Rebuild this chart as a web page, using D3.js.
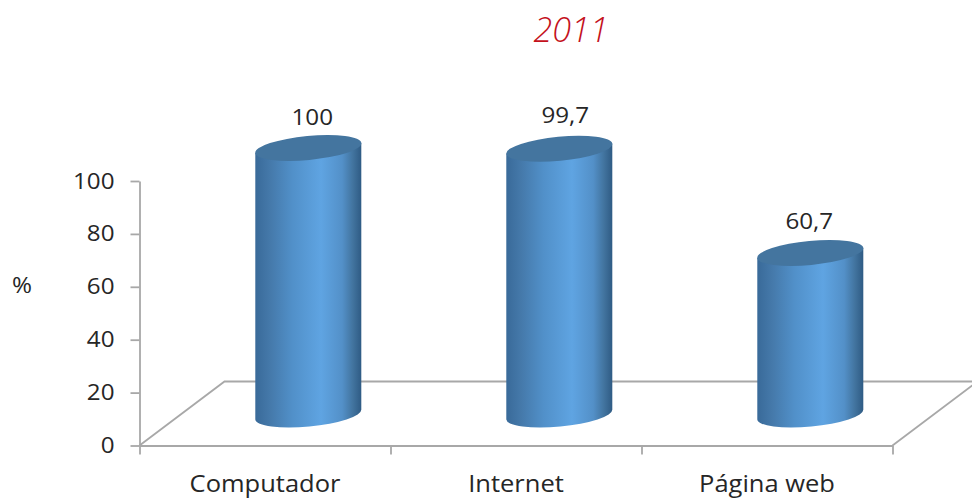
<!DOCTYPE html>
<meta charset="utf-8">
<title>2011</title>
<style>
body {
  margin: 0;
  background: #fff;
  overflow: hidden;
}
svg text {
  font-family: "Open Sans", sans-serif;
  fill: #262626;
}
.axis path, .axis line, .floor {
  fill: none;
  stroke: #a8a8a8;
  stroke-width: 1.8;
}
.title {
  fill: #c4111c;
  font-style: italic;
  font-weight: 300;
}
</style>
<script src="https://d3js.org/d3.v7.min.js"></script>
<body>
<script>
var categories = ["Computador", "Internet", "Página web"];
var values = [100, 99.7, 60.7];
var valueLabels = ["100", "99,7", "60,7"];
var yTicks = [0, 20, 40, 60, 80, 100];

var width = 972, height = 498;
var depthX = 85, depthY = 64;    // how far the floor runs back
var barWidth = 106, tilt = 10;   // tilt = left side of a cap sits this much lower than the right

var svg = d3.select("body").append("svg")
    .attr("width", width)
    .attr("height", height);

var defs = svg.append("defs");
var grad = defs.append("linearGradient").attr("id", "barFill");
grad.append("stop").attr("offset", "0%").attr("stop-color", "#396a99");
grad.append("stop").attr("offset", "14%").attr("stop-color", "#4579aa");
grad.append("stop").attr("offset", "35%").attr("stop-color", "#5190c9");
grad.append("stop").attr("offset", "62%").attr("stop-color", "#5fa4e2");
grad.append("stop").attr("offset", "82%").attr("stop-color", "#5390c8");
grad.append("stop").attr("offset", "92%").attr("stop-color", "#42749f");
grad.append("stop").attr("offset", "100%").attr("stop-color", "#2f5b84");

var y = d3.scaleLinear().domain([0, 100]).range([445.5, 181]);
// cylinders stand further back, so they get their own slightly stretched scale
var barY = d3.scaleLinear().domain([0, 100]).range([415, 148]);
var x = d3.scaleBand().domain(categories).range([139.5, 892.5]);
var xEdges = d3.scaleLinear().domain([0, 3]).range([139.5, 892.5]);

// the original picture is a bit wider than tall, so the text gets pulled out sideways
function widen(sel, stretch) {
  sel.each(function() {
    d3.select(this)
      .attr("lengthAdjust", "spacingAndGlyphs")
      .attr("textLength", this.getComputedTextLength() * stretch);
  });
}

// floor
svg.append("path")
    .attr("class", "floor")
    .attr("d", "M" + x.range()[0] + "," + y(0)
      + "L" + (x.range()[0] + depthX) + "," + (y(0) - depthY)
      + "L" + (x.range()[1] + depthX) + "," + (y(0) - depthY)
      + "L" + x.range()[1] + "," + y(0));

// axes
svg.append("g")
    .attr("class", "axis")
    .attr("transform", "translate(139.5,0)")
    .call(d3.axisLeft(y).tickValues(yTicks).tickSize(9).tickPadding(16).tickSizeOuter(0))
    .selectAll("text")
    .style("font-size", "22px")
    .style("fill", "#262626")
    .call(widen, 1.1);

svg.append("g")
    .attr("class", "axis")
    .attr("transform", "translate(0," + y(0) + ")")
    .call(d3.axisBottom(xEdges).tickValues([0, 1, 2, 3]).tickFormat("").tickSize(9).tickSizeOuter(0));

var xLabels = svg.append("g")
    .attr("transform", "translate(0," + y(0) + ")")
    .call(d3.axisBottom(x).tickSize(0).tickPadding(29.5));
xLabels.select(".domain").remove();
xLabels.selectAll("text")
    .style("font-size", "23.5px")
    .style("fill", "#262626")
    .call(widen, 1.085);

// cylinders
function barCx(d) { return x(d) + x.bandwidth() / 2 + 43.3; }

function cylinder(cat, i) {
  var cx = barCx(cat), hw = barWidth / 2;
  var top = barY(values[i]), bot = barY(0);
  var arc = "A" + hw + ",12 -5.4 0 0 ";
  return "M" + (cx - hw) + "," + (top + tilt / 2)
    + "L" + (cx - hw) + "," + (bot + tilt / 2 - 0.5)
    + arc + (cx + hw) + "," + (bot - tilt / 2 - 0.5)
    + "L" + (cx + hw) + "," + (top - tilt / 2)
    + "Z";
}

svg.selectAll("path.bar")
    .data(categories)
  .enter().append("path")
    .attr("class", "bar")
    .attr("fill", "url(#barFill)")
    .attr("d", cylinder);

svg.selectAll("ellipse.cap")
    .data(categories)
  .enter().append("ellipse")
    .attr("class", "cap")
    .attr("rx", barWidth / 2 + 0.3)
    .attr("ry", 12)
    .attr("fill", "#44759f")
    .attr("transform", function(d, i) {
      return "translate(" + barCx(d) + "," + barY(values[i]) + ") rotate(-5.4)";
    });

// value labels were placed by hand in the original, hence the nudges
var nudgeX = [4, 6, -1], nudgeY = [-23, -26, -24];
svg.selectAll("text.value")
    .data(categories)
  .enter().append("text")
    .attr("class", "value")
    .attr("x", function(d, i) { return barCx(d) + nudgeX[i]; })
    .attr("y", function(d, i) { return barY(values[i]) + nudgeY[i]; })
    .attr("text-anchor", "middle")
    .style("font-size", "22px")
    .text(function(d, i) { return valueLabels[i]; })
    .call(widen, 1.1);

svg.append("text")
    .attr("x", 22)
    .attr("y", 293)
    .attr("text-anchor", "middle")
    .style("font-size", "22px")
    .text("%")
    .call(widen, 1.1);

svg.append("text")
    .attr("class", "title")
    .attr("x", 571)
    .attr("y", 42)
    .attr("text-anchor", "middle")
    .style("font-size", "34px")
    .text("2011");
</script>
</body>
